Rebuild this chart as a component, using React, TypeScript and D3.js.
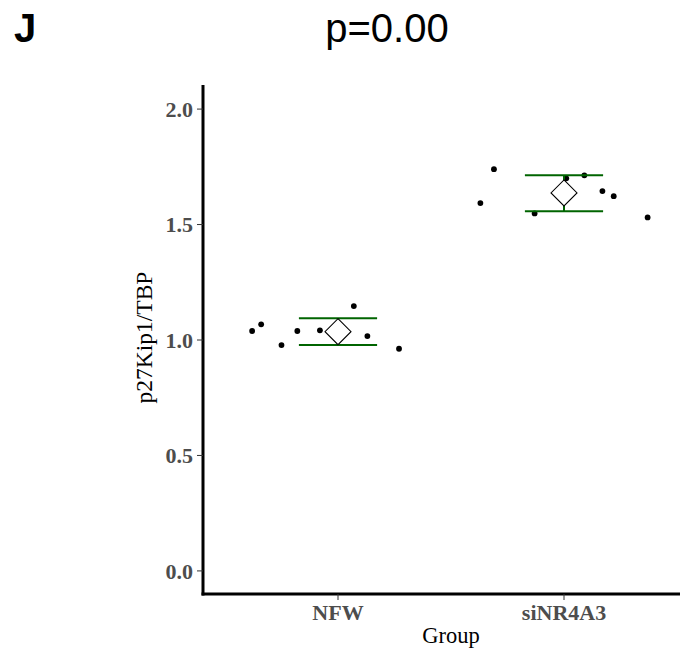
import React from "react";
import * as d3 from "d3";

const groups = ["NFW", "siNR4A3"];
// jitter offsets (in category units) and values for each point
const nfwValues = [1.039, 1.068, 0.978, 1.039, 1.042, 1.147, 1.017, 0.962];
const nfwJitter = [-0.38, -0.34, -0.25, -0.18, -0.08, 0.07, 0.13, 0.27];
const siValues = [1.74, 1.593, 1.548, 1.7, 1.713, 1.645, 1.623, 1.531];
const siJitter = [-0.31, -0.37, -0.13, 0.01, 0.09, 0.17, 0.22, 0.37];
const means = [1.036, 1.637];
const ciLow = [0.978, 1.558];
const ciHigh = [1.094, 1.714];
const yTicks = [0.0, 0.5, 1.0, 1.5, 2.0];

export default function App() {
  const W = 680;
  const H = 659;
  const left = 203;
  const top = 86;
  const bottom = 594;
  const unit = 226;
  const x0 = 338;
  const xPos = (i: number) => x0 + i * unit;
  const y = d3.scaleLinear().domain([-0.1, 2.1]).range([bottom, top]);

  const series = [
    { vals: nfwValues, jit: nfwJitter },
    { vals: siValues, jit: siJitter },
  ];
  const capHalf = 0.173 * unit;
  const dia = 13;

  return (
    <svg width={W} height={H} style={{ position: "absolute", left: 0, top: 0 }}>
      <rect width={W} height={H} fill="white" />
      <text x={14} y={42} fontFamily="Liberation Sans, Arial" fontWeight="bold" fontSize={40} fill="black">J</text>
      <text x={387} y={42} textAnchor="middle" fontFamily="Liberation Sans, Arial" fontSize={40} fill="black">p=0.00</text>

      {/* points */}
      {series.map((s, gi) =>
        s.vals.map((v, i) => (
          <circle key={`${gi}-${i}`} cx={xPos(gi) + s.jit[i] * unit} cy={y(v)} r={2.9} fill="black" />
        ))
      )}

      {/* error bars + mean diamonds */}
      {groups.map((g, gi) => {
        const cx = xPos(gi);
        const cy = y(means[gi]);
        return (
          <g key={g}>
            <line x1={cx} x2={cx} y1={y(ciLow[gi])} y2={y(ciHigh[gi])} stroke="#006400" strokeWidth={2} />
            <line x1={cx - capHalf} x2={cx + capHalf} y1={y(ciLow[gi])} y2={y(ciLow[gi])} stroke="#006400" strokeWidth={2} />
            <line x1={cx - capHalf} x2={cx + capHalf} y1={y(ciHigh[gi])} y2={y(ciHigh[gi])} stroke="#006400" strokeWidth={2} />
            <path
              d={`M${cx},${cy - dia}L${cx + dia},${cy}L${cx},${cy + dia}L${cx - dia},${cy}Z`}
              fill="white"
              stroke="black"
              strokeWidth={1.1}
            />
          </g>
        );
      })}

      {/* y axis */}
      <line x1={left} x2={left} y1={top - 1} y2={bottom + 1.5} stroke="black" strokeWidth={3} />
      {yTicks.map((t) => (
        <g key={t}>
          <line x1={left - 6} x2={left} y1={y(t)} y2={y(t)} stroke="#333" strokeWidth={1} />
          <text x={left - 10} y={y(t)} dy="0.35em" textAnchor="end" fontFamily="Liberation Serif, Times New Roman" fontWeight="bold" fontSize={22} fill="#4D4D4D">
            {t.toFixed(1)}
          </text>
        </g>
      ))}
      <text transform={`translate(152,${337.5}) rotate(-90)`} textAnchor="middle" fontFamily="Liberation Serif, Times New Roman" fontSize={23.5} fill="black">
        p27Kip1/TBP
      </text>

      {/* x axis */}
      <line x1={left - 1.5} x2={W} y1={bottom} y2={bottom} stroke="black" strokeWidth={3} />
      {groups.map((g, gi) => (
        <g key={g}>
          <line x1={xPos(gi)} x2={xPos(gi)} y1={bottom} y2={bottom + 6} stroke="#333" strokeWidth={1} />
          <text x={xPos(gi)} y={620} textAnchor="middle" fontFamily="Liberation Serif, Times New Roman" fontWeight="bold" fontSize={22} fill="#4D4D4D">
            {g}
          </text>
        </g>
      ))}
      <text x={451} y={643} textAnchor="middle" fontFamily="Liberation Serif, Times New Roman" fontSize={22.5} fill="black">
        Group
      </text>
    </svg>
  );
}
